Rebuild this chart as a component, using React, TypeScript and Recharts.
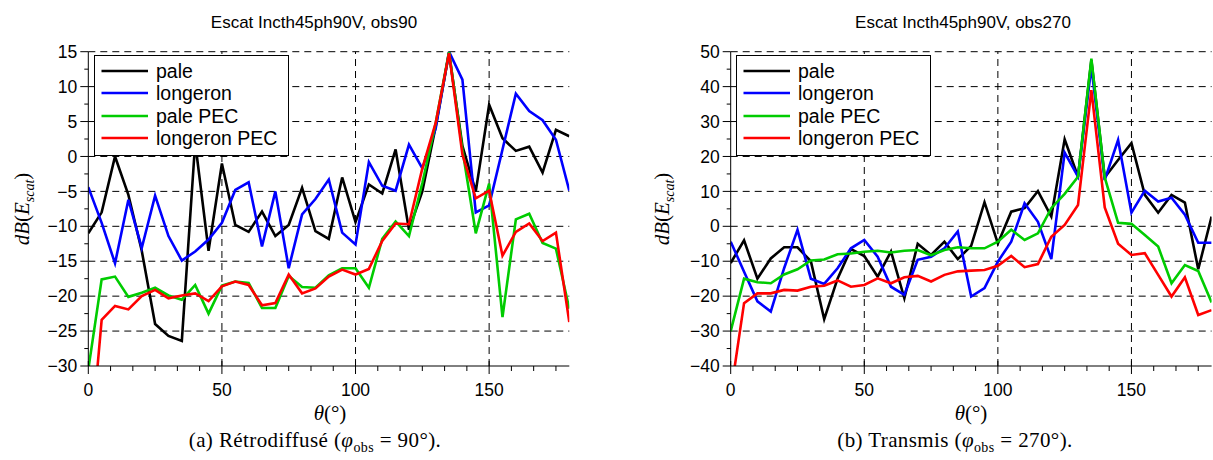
import React from 'react';
import { LineChart, Line, XAxis, YAxis, ReferenceLine, Legend } from 'recharts';

const theta = [0, 5, 10, 15, 20, 25, 30, 35, 40, 45, 50, 55, 60, 65, 70, 75, 80, 85, 90, 95, 100, 105, 110, 115, 120, 125, 130, 135, 140, 145, 150, 155, 160, 165, 170, 175, 180];

const seriesKeys = ['pale', 'longeron', 'palePEC', 'longeronPEC'];
const seriesNames = ['pale', 'longeron', 'pale PEC', 'longeron PEC'];
const seriesColors = ['#000000', '#0000ff', '#00cc00', '#ff0000'];

// Panel (a) : obs90
const obs90Pale = [-11, -8, 0, -5.5, -13.5, -24, -25.7, -26.4, 2, -13.5, -1, -9.8, -10.8, -7.9, -11.4, -9.8, -4.5, -10.7, -11.8, -3, -9.4, -4, -5.3, 1, -10.5, -5, 4.3, 14.8, 1.5, -5, 7.4, 2.6, 0.8, 1.4, -2.3, 3.8, 2.9];
const obs90Longeron = [-4.4, -9.5, -15.3, -6.2, -13.1, -5.6, -11.4, -14.9, -13.6, -11.9, -9.5, -4.8, -3.7, -12.9, -5, -16, -8.3, -6.1, -3.3, -10.9, -12.6, -0.8, -4.2, -4.9, 1.7, -1.7, 4, 15, 11, -8, -7, 1, 9, 6.5, 5.2, 2.4, -4.9];
const obs90PalePEC = [-30.5, -17.6, -17.2, -20.1, -19.5, -18.8, -19.9, -20.5, -18.4, -22.5, -18.5, -17.9, -18.1, -21.7, -21.7, -17.1, -18.7, -18.8, -17, -16, -16, -18.8, -11.8, -9.3, -11.4, -3.8, 4.8, 15, 1, -11, -3.9, -23, -9, -8.2, -12.4, -13.2, -21.8];
const obs90LongeronPEC = [-45, -23.4, -21.4, -21.9, -20, -19.1, -20.3, -19.9, -19.6, -20.7, -18.6, -17.9, -18.4, -21.3, -21, -16.9, -19.6, -18.9, -17.2, -16.2, -16.9, -16.1, -12.1, -9.6, -9.7, -1.7, 4.8, 14.8, 0.3, -6, -4.9, -14.2, -10.8, -9.6, -12.1, -10.9, -23.7];

// Panel (b) : obs270
const obs270Pale = [-10.5, -4, -15, -9.2, -6, -6, -10, -26.6, -15, -6.5, -8.5, -14.4, -7.2, -20.6, -5, -8.2, -4.4, -9.4, -5.6, 6.9, -4.9, 4.2, 5.2, 10.1, 2.8, 24.9, 14.2, 47.6, 14, 19, 23.8, 9, 3.9, 9, 6.8, -12.3, 2.8];
const obs270Longeron = [-4.4, -13, -21.5, -24.4, -12, -1, -15, -16.5, -12, -6.3, -3.9, -8.7, -17.3, -19.6, -9.6, -8.7, -6.3, -1.5, -20.1, -17.7, -10.1, -4.4, 6.6, 1.3, -9.4, 21.1, 14.2, 45.7, 13.3, 24.7, 3.9, 10.2, 7.1, 8.2, 3.3, -4.7, -4.7];
const obs270PalePEC = [-30, -15, -16, -16.3, -13.8, -12.3, -9.8, -9.5, -8, -7.8, -7.3, -7, -7.5, -7, -6.8, -8.3, -6.8, -6, -6.3, -6.3, -4.4, -1, -3.9, -2, 5.2, 9.3, 14.2, 48, 14, 1, 0.7, -2.5, -5.8, -16.3, -11.1, -12.8, -21.8];
const obs270LongeronPEC = [-48, -22, -19.2, -19.2, -18.2, -18.4, -17.3, -17, -15.5, -17.3, -16.8, -14.9, -16.3, -14.6, -14.2, -15.8, -13.9, -12.9, -12.7, -12.5, -11.3, -8.5, -11.7, -10.8, -3, 0.4, 6.1, 39, 5.4, -5, -8.2, -7.7, -13.9, -20.1, -14.6, -25.4, -24];

const xMajorTicks = [0, 50, 100, 150];
const xAllTicks = Array.from({ length: 22 }, (_, i) => (i * 50) / 6);

const obs90YMajor = [-30, -25, -20, -15, -10, -5, 0, 5, 10, 15];
const obs270YMajor = [-40, -30, -20, -10, 0, 10, 20, 30, 40, 50];

const titleA = 'Escat Incth45ph90V, obs90';
const titleB = 'Escat Incth45ph90V, obs270';

const SANS = '"Liberation Sans", Arial, Helvetica, sans-serif';
const SERIF = '"Liberation Serif", "Times New Roman", serif';

const fmt = (v: number) => (v < 0 ? '\u2212' + Math.abs(v) : String(v));

const buildRows = (a: number[], b: number[], c: number[], d: number[]) =>
  theta.map((t, i) => ({ theta: t, pale: a[i], longeron: b[i], palePEC: c[i], longeronPEC: d[i] }));

const withMinors = (majors: number[]) => {
  const out: number[] = [];
  majors.forEach((v, i) => {
    out.push(v);
    if (i < majors.length - 1) out.push((v + majors[i + 1]) / 2);
  });
  return out;
};

const isMajorX = (v: number) => Math.abs(v / 50 - Math.round(v / 50)) < 1e-6;

const XTick = (props: any) => {
  const { x, y, payload } = props;
  const v = payload.value;
  if (isMajorX(v)) {
    return (
      <g>
        <line x1={x} x2={x} y1={y - 5} y2={y + 8} stroke="#000" strokeWidth={1} />
        <text x={x} y={y + 24} textAnchor="middle" dy="0.35em" fontSize={17.5} fontFamily={SANS} fill="#000">
          {fmt(Math.round(v))}
        </text>
      </g>
    );
  }
  return <line x1={x} x2={x} y1={y} y2={y + 5} stroke="#000" strokeWidth={1} />;
};

const makeYTick = (majors: number[]) => (props: any) => {
  const { x, y, payload } = props;
  const v = payload.value;
  const major = majors.some((m) => Math.abs(m - v) < 1e-6);
  if (major) {
    return (
      <g>
        <line x1={x - 8} x2={x} y1={y} y2={y} stroke="#000" strokeWidth={1} />
        <text x={x - 11} y={y} textAnchor="end" dy="0.35em" fontSize={17.5} fontFamily={SANS} fill="#000">
          {fmt(v)}
        </text>
      </g>
    );
  }
  return <line x1={x - 4} x2={x} y1={y} y2={y} stroke="#000" strokeWidth={1} />;
};

const LegendBox = () => (
  <div
    style={{
      width: 193,
      height: 99,
      border: '1px solid #000',
      background: '#fff',
      boxSizing: 'content-box',
      position: 'relative',
    }}
  >
    {seriesNames.map((n, i) => (
      <div key={n} style={{ position: 'absolute', left: 0, top: 4 + i * 22.3, height: 22, width: 193 }}>
        <svg width={60} height={22} style={{ position: 'absolute', left: 0, top: 0 }}>
          <line x1={6.5} x2={53} y1={11} y2={11} stroke={seriesColors[i]} strokeWidth={2.5} />
        </svg>
        <span
          style={{
            position: 'absolute',
            left: 61,
            top: 0,
            lineHeight: '22px',
            fontSize: 19.5,
            fontFamily: SANS,
            color: '#000',
            whiteSpace: 'nowrap',
          }}
        >
          {n}
        </span>
      </div>
    ))}
  </div>
);

type PanelProps = {
  left: number;
  width: number;
  data: any[];
  yDomain: [number, number];
  yMajor: number[];
  yAxisWidth: number;
  marginRight: number;
  title: string;
  titleX: number;
  legendLeft: number;
  ylabelX: number;
  xlabelX: number;
  captionX: number;
  captionLetter: string;
  captionWord: string;
  captionAngle: string;
};

const Panel = (p: PanelProps) => {
  const YTick = makeYTick(p.yMajor);
  return (
    <div style={{ position: 'absolute', left: p.left, top: 0, width: p.width, height: 460 }}>
      <LineChart width={p.width} height={460} data={p.data} margin={{ top: 51.7, right: p.marginRight, bottom: 64, left: 0 }}>
        <XAxis
          dataKey="theta"
          type="number"
          domain={[0, 180]}
          ticks={xAllTicks}
          interval={0}
          tickLine={false}
          tickSize={0}
          tickMargin={0}
          height={30}
          axisLine={{ stroke: '#000', strokeWidth: 1 }}
          tick={<XTick />}
          allowDataOverflow
        />
        <YAxis
          type="number"
          domain={p.yDomain}
          ticks={withMinors(p.yMajor)}
          interval={0}
          tickLine={false}
          tickSize={0}
          tickMargin={0}
          width={p.yAxisWidth}
          axisLine={{ stroke: '#000', strokeWidth: 1 }}
          tick={<YTick />}
          allowDataOverflow
        />
        {p.yMajor.slice(1).map((v) => (
          <ReferenceLine key={'h' + v} y={v} stroke="#000" strokeWidth={1} strokeDasharray="7 5" />
        ))}
        {xMajorTicks.slice(1).map((v) => (
          <ReferenceLine key={'v' + v} x={v} stroke="#000" strokeWidth={1} strokeDasharray="7 5" />
        ))}
        {seriesKeys.map((k, i) => (
          <Line
            key={k}
            dataKey={k}
            name={seriesNames[i]}
            stroke={seriesColors[i]}
            strokeWidth={2.6}
            dot={false}
            activeDot={false}
            type="linear"
            isAnimationActive={false}
          />
        ))}
        <Legend
          layout="vertical"
          align="center"
          verticalAlign="middle"
          content={<LegendBox />}
          wrapperStyle={{ left: p.legendLeft, top: 55, width: 195, height: 101 }}
        />
      </LineChart>
      <div
        style={{
          position: 'absolute',
          left: p.titleX - 200,
          width: 400,
          top: 13,
          textAlign: 'center',
          fontFamily: SANS,
          fontSize: 17,
          lineHeight: '20px',
          color: '#000',
        }}
      >
        {p.title}
      </div>
      <div
        style={{
          position: 'absolute',
          left: p.ylabelX - 100,
          top: 209 - 14,
          width: 200,
          height: 28,
          lineHeight: '28px',
          textAlign: 'center',
          transform: 'rotate(-90deg)',
          fontFamily: SERIF,
          fontSize: 21,
          color: '#000',
          whiteSpace: 'nowrap',
        }}
      >
        <i>dB</i>(<i>E</i>
        <sub style={{ fontSize: 14 }}>
          <i>scat</i>
        </sub>
        )
      </div>
      <div
        style={{
          position: 'absolute',
          left: p.xlabelX - 100,
          width: 200,
          top: 400,
          textAlign: 'center',
          fontFamily: SERIF,
          fontSize: 21,
          lineHeight: '26px',
          color: '#000',
        }}
      >
        <i>θ</i>(°)
      </div>
      <div
        style={{
          position: 'absolute',
          left: p.captionX - 250,
          width: 500,
          top: 427,
          textAlign: 'center',
          fontFamily: SERIF,
          fontSize: 21,
          letterSpacing: 0.4,
          lineHeight: '26px',
          color: '#000',
          whiteSpace: 'nowrap',
        }}
      >
        {p.captionLetter} {p.captionWord} (<i>φ</i>
        <sub style={{ fontSize: 14 }}>obs</sub> = {p.captionAngle}).
      </div>
    </div>
  );
};

export default function App() {
  const dataA = buildRows(obs90Pale, obs90Longeron, obs90PalePEC, obs90LongeronPEC);
  const dataB = buildRows(obs270Pale, obs270Longeron, obs270PalePEC, obs270LongeronPEC);
  return (
    <div style={{ position: 'absolute', left: 0, top: 0, width: 1213, height: 460, background: '#fff', overflow: 'hidden' }}>
      <Panel
        left={0}
        width={600}
        data={dataA}
        yDomain={[-30, 15]}
        yMajor={obs90YMajor}
        yAxisWidth={88.3}
        marginRight={30.7}
        title={titleA}
        titleX={314}
        legendLeft={94}
        ylabelX={22}
        xlabelX={330}
        captionX={315}
        captionLetter="(a)"
        captionWord="Rétrodiffusé"
        captionAngle="90°"
      />
      <Panel
        left={600}
        width={613}
        data={dataB}
        yDomain={[-40, 50]}
        yMajor={obs270YMajor}
        yAxisWidth={130.7}
        marginRight={1.4}
        title={titleB}
        titleX={363}
        legendLeft={136}
        ylabelX={62}
        xlabelX={371}
        captionX={355}
        captionLetter="(b)"
        captionWord="Transmis"
        captionAngle="270°"
      />
    </div>
  );
}
